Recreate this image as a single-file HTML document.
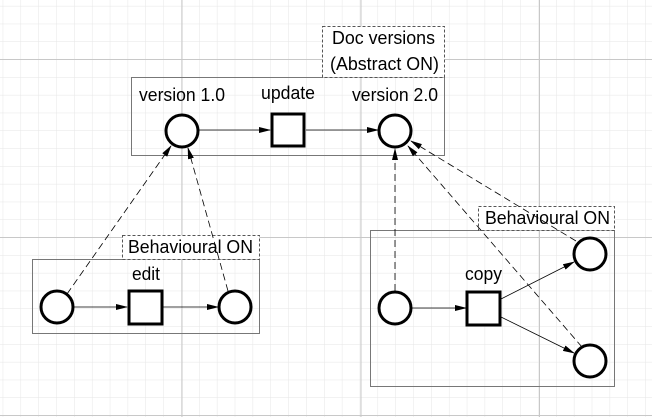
<!DOCTYPE html>
<html><head><meta charset="utf-8"><style>
html,body{margin:0;padding:0;background:#fff;}
svg{display:block;font-family:"Liberation Sans",sans-serif;}
</style></head><body>
<svg width="652" height="417" viewBox="0 0 652 417" xmlns="http://www.w3.org/2000/svg">
<defs>
<pattern id="mg" x="2.7" y="5.9" width="17.85" height="17.8" patternUnits="userSpaceOnUse">
<path d="M0 0V17.8M0 0H17.85" stroke="#e6e6e6" stroke-width="1" fill="none"/>
</pattern>
<marker id="ah" markerWidth="12" markerHeight="8" refX="11" refY="4" orient="auto" markerUnits="userSpaceOnUse">
<path d="M0 1 L12 4 L0 7 Z" fill="#000"/>
</marker>
</defs>
<rect width="652" height="417" fill="url(#mg)"/>
<g stroke="#c8c8c8" stroke-width="1">
<line x1="182" y1="0" x2="182" y2="417"/><line x1="361" y1="0" x2="361" y2="417"/><line x1="539.5" y1="0" x2="539.5" y2="417"/>
<line x1="0" y1="59.5" x2="652" y2="59.5"/><line x1="0" y1="237.5" x2="652" y2="237.5"/><line x1="0" y1="415.5" x2="652" y2="415.5"/>
</g>
<g fill="none" stroke="#777" stroke-width="1">
<rect x="131.5" y="77.5" width="313" height="78"/>
<rect x="32.5" y="259.5" width="227" height="74"/>
<rect x="370.5" y="230.5" width="244" height="156"/>
</g>
<g fill="#fff" stroke="#555" stroke-width="1" stroke-dasharray="3,2">
<rect x="322.5" y="26.5" width="122" height="51"/>
<rect x="122.5" y="235.5" width="137" height="24"/>
<rect x="478.5" y="206.5" width="136" height="24"/>
</g>
<g font-size="18" fill="#000" lengthAdjust="spacingAndGlyphs">
<text x="332" y="44" textLength="103" lengthAdjust="spacingAndGlyphs">Doc versions</text>
<text x="330" y="70" textLength="109" lengthAdjust="spacingAndGlyphs">(Abstract ON)</text>
<text x="128" y="253" textLength="125" lengthAdjust="spacingAndGlyphs">Behavioural ON</text>
<text x="485" y="224" textLength="125" lengthAdjust="spacingAndGlyphs">Behavioural ON</text>
<text x="139" y="101" textLength="86" lengthAdjust="spacingAndGlyphs">version 1.0</text>
<text x="261" y="99" textLength="54" lengthAdjust="spacingAndGlyphs">update</text>
<text x="352" y="101" textLength="86" lengthAdjust="spacingAndGlyphs">version 2.0</text>
<text x="132" y="280" textLength="28" lengthAdjust="spacingAndGlyphs">edit</text>
<text x="465" y="280" textLength="37" lengthAdjust="spacingAndGlyphs">copy</text>
</g>
<g stroke="#000" stroke-width="0.8" stroke-dasharray="7,4" fill="none" marker-end="url(#ah)">
<line x1="67" y1="294" x2="171" y2="146"/>
<line x1="228" y1="291" x2="188" y2="148"/>
<line x1="395" y1="291" x2="395" y2="149"/>
<line x1="582" y1="347" x2="408" y2="146"/>
<line x1="576" y1="241" x2="411" y2="141"/>
</g>
<g stroke="#000" stroke-width="0.8" fill="none" marker-end="url(#ah)">
<line x1="199" y1="130" x2="270" y2="130"/>
<line x1="306" y1="130" x2="378" y2="130"/>
<line x1="74" y1="307" x2="127" y2="307"/>
<line x1="163" y1="307" x2="218" y2="307"/>
<line x1="412" y1="308" x2="466" y2="308"/>
<line x1="501" y1="299" x2="574" y2="262"/>
<line x1="501" y1="317" x2="574" y2="353"/>
</g>
<g fill="#fff" stroke="#000" stroke-width="3">
<circle cx="182" cy="131" r="16"/>
<circle cx="395" cy="131" r="16"/>
<circle cx="57" cy="307" r="16"/>
<circle cx="235" cy="307" r="16"/>
<circle cx="395" cy="308" r="16"/>
<circle cx="590" cy="254" r="16"/>
<circle cx="590" cy="361" r="16"/>
<rect x="272" y="114" width="32" height="32"/>
<rect x="129" y="291" width="33" height="33"/>
<rect x="467" y="292" width="33" height="33"/>
</g>
</svg>
</body></html>
